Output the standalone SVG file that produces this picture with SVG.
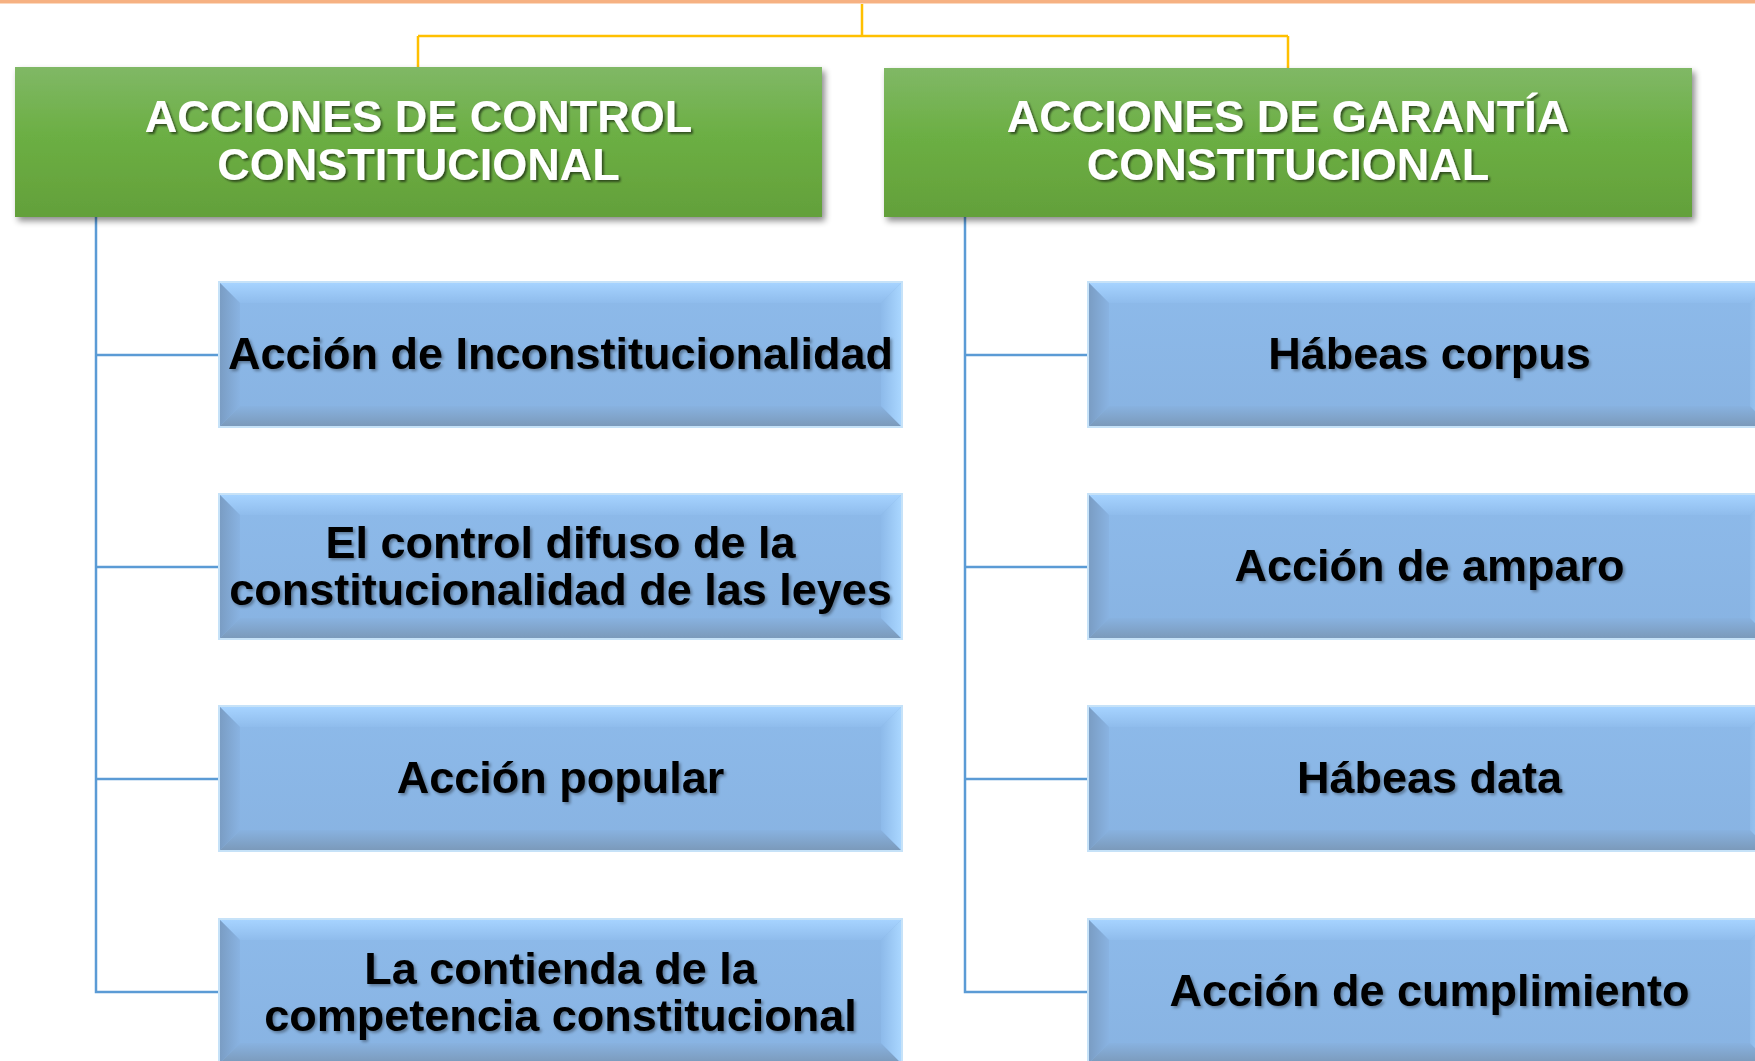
<svg xmlns="http://www.w3.org/2000/svg" xmlns:xlink="http://www.w3.org/1999/xlink" width="1755" height="1061" viewBox="0 0 1755 1061">
  <defs>
    <linearGradient id="gGreen" x1="0" y1="0" x2="0" y2="1">
      <stop offset="0" stop-color="#80b866"/>
      <stop offset="0.45" stop-color="#6caf44"/>
      <stop offset="1" stop-color="#63a03a"/>
    </linearGradient>
    <linearGradient id="gFace" x1="0" y1="0" x2="0" y2="1">
      <stop offset="0" stop-color="#8dbaea"/>
      <stop offset="1" stop-color="#88b3e2"/>
    </linearGradient>
    <linearGradient id="gTop" x1="0" y1="0" x2="0" y2="1">
      <stop offset="0" stop-color="#a6d3ff"/>
      <stop offset="1" stop-color="#8fbcec"/>
    </linearGradient>
    <linearGradient id="gLeft" x1="0" y1="0" x2="1" y2="0">
      <stop offset="0" stop-color="#7a9dc4"/>
      <stop offset="1" stop-color="#89b3e2"/>
    </linearGradient>
    <linearGradient id="gBottom" x1="0" y1="1" x2="0" y2="0">
      <stop offset="0" stop-color="#7b9abb"/>
      <stop offset="1" stop-color="#88b2e0"/>
    </linearGradient>
    <linearGradient id="gRight" x1="1" y1="0" x2="0" y2="0">
      <stop offset="0" stop-color="#a9d6ff"/>
      <stop offset="1" stop-color="#8dbaea"/>
    </linearGradient>
    <filter id="boxShadow" x="-5%" y="-10%" width="110%" height="130%">
      <feDropShadow dx="3" dy="4" stdDeviation="3" flood-color="#000" flood-opacity="0.45"/>
    </filter>
    <filter id="txtShadowW" x="-5%" y="-20%" width="110%" height="150%">
      <feDropShadow dx="2" dy="2" stdDeviation="1.2" flood-color="#000" flood-opacity="0.55"/>
    </filter>
    <filter id="txtShadowB" x="-5%" y="-20%" width="110%" height="150%">
      <feDropShadow dx="2" dy="2" stdDeviation="1.5" flood-color="#000" flood-opacity="0.35"/>
    </filter>
    <g id="bevelBox">
      <rect x="0" y="0" width="685" height="147" fill="#c6e2f8"/>
      <rect x="2" y="2" width="681" height="143" fill="url(#gFace)"/>
      <polygon points="2,2 683,2 663,22 22,22" fill="url(#gTop)"/>
      <polygon points="2,2 22,22 22,125 2,145" fill="url(#gLeft)"/>
      <polygon points="2,145 22,125 663,125 683,145" fill="url(#gBottom)"/>
      <polygon points="683,2 683,145 663,125 663,22" fill="url(#gRight)"/>
    </g>
    <style>
      .title { font-family: "Liberation Sans", Arial, sans-serif; font-weight: bold; font-size: 45px; fill: #ffffff; text-anchor: middle; }
      .label { font-family: "Liberation Sans", Arial, sans-serif; font-weight: bold; font-size: 45px; fill: #000000; text-anchor: middle; }
      .yl { fill: none; stroke: #ffc000; stroke-width: 2.5; }
      .bl { fill: none; stroke: #5b9bd5; stroke-width: 2.5; }
    </style>
  </defs>

  <rect x="0" y="0" width="1755" height="1061" fill="#ffffff"/>
  <rect x="0" y="0" width="1755" height="3" fill="#f6b182"/>
  <rect x="0" y="3" width="1755" height="1" fill="#fbd9c0"/>

  <g id="connectors">
    <path class="yl" d="M862 4 V36 M418 36 H1288 M418 36 V67 M1288 36 V68"/>
    <path class="bl" d="M96 217 V992 H218 M96 355 H218 M96 567 H218 M96 779 H218"/>
    <path class="bl" d="M965 217 V992 H1087 M965 355 H1087 M965 567 H1087 M965 779 H1087"/>
  </g>

  <g id="node-control">
    <rect x="15" y="67" width="807" height="150" fill="url(#gGreen)" filter="url(#boxShadow)"/>
    <text class="title" filter="url(#txtShadowW)"><tspan x="418.5" y="132">ACCIONES DE CONTROL</tspan><tspan x="418.5" y="180">CONSTITUCIONAL</tspan></text>
  </g>

  <g id="node-garantia">
    <rect x="884" y="68" width="808" height="149" fill="url(#gGreen)" filter="url(#boxShadow)"/>
    <text class="title" filter="url(#txtShadowW)"><tspan x="1288" y="132">ACCIONES DE GARANTÍA</tspan><tspan x="1288" y="180">CONSTITUCIONAL</tspan></text>
  </g>

  <g id="node-inconstitucionalidad">
    <use xlink:href="#bevelBox" x="218" y="281"/>
    <text class="label" x="560.5" y="369" filter="url(#txtShadowB)">Acción de Inconstitucionalidad</text>
  </g>

  <g id="node-control-difuso">
    <use xlink:href="#bevelBox" x="218" y="493"/>
    <text class="label" filter="url(#txtShadowB)"><tspan x="560.5" y="558">El control difuso de la</tspan><tspan x="560.5" y="605">constitucionalidad de las leyes</tspan></text>
  </g>

  <g id="node-accion-popular">
    <use xlink:href="#bevelBox" x="218" y="705"/>
    <text class="label" x="560.5" y="793" filter="url(#txtShadowB)">Acción popular</text>
  </g>

  <g id="node-contienda">
    <use xlink:href="#bevelBox" x="218" y="918"/>
    <text class="label" filter="url(#txtShadowB)"><tspan x="560.5" y="984">La contienda de la</tspan><tspan x="560.5" y="1031">competencia constitucional</tspan></text>
  </g>

  <g id="node-habeas-corpus">
    <use xlink:href="#bevelBox" x="1087" y="281"/>
    <text class="label" x="1429.5" y="369" filter="url(#txtShadowB)">Hábeas corpus</text>
  </g>

  <g id="node-amparo">
    <use xlink:href="#bevelBox" x="1087" y="493"/>
    <text class="label" x="1429.5" y="581" filter="url(#txtShadowB)">Acción de amparo</text>
  </g>

  <g id="node-habeas-data">
    <use xlink:href="#bevelBox" x="1087" y="705"/>
    <text class="label" x="1429.5" y="793" filter="url(#txtShadowB)">Hábeas data</text>
  </g>

  <g id="node-cumplimiento">
    <use xlink:href="#bevelBox" x="1087" y="918"/>
    <text class="label" x="1429.5" y="1006" filter="url(#txtShadowB)">Acción de cumplimiento</text>
  </g>
</svg>
